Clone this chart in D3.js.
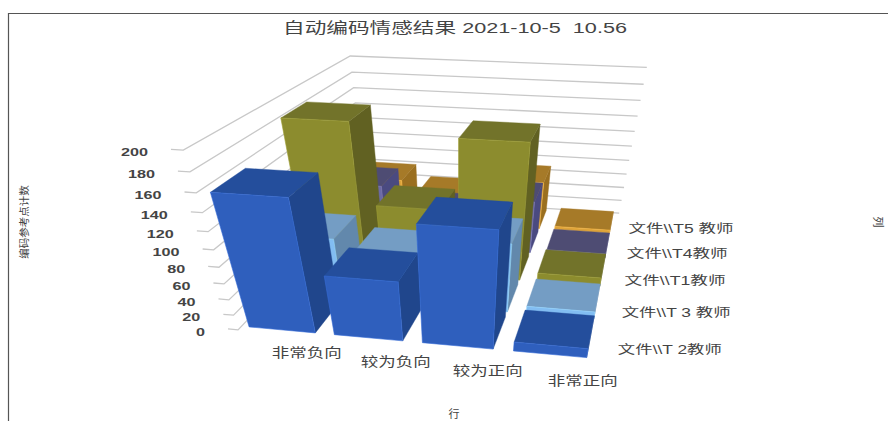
<!DOCTYPE html>
<html>
<head>
<meta charset="utf-8">
<script src="https://cdn.jsdelivr.net/npm/d3@7/dist/d3.min.js"></script>
<style>
  html, body { margin: 0; padding: 0; background: #fff; }
  svg { display: block; }
  text { font-family: "Liberation Sans", "Noto Sans CJK SC", sans-serif; fill: #444; }
</style>
</head>
<body>
<svg id="chart" width="888" height="421"></svg>
<script>
// Row and column names
const categories = ["非常负向", "较为负向", "较为正向", "非常正向"];
const seriesNames = ["文件\\\\T 2教师", "文件\\\\T 3 教师", "文件\\\\T1教师", "文件\\\\T4教师", "文件\\\\T5 教师"];
const seriesWidths = [104, 109, 101, 101, 105];
const tickValues = [0, 20, 40, 60, 80, 100, 120, 140, 160, 180, 200];

// Reference counts per teacher file, one entry per row
const t2Values = [158, 75, 140, 12];
const t3Values = [78, 64, 88, 10];
const t1Values = [183, 87, 171, 12];
const t4Values = [80, 50, 72, 6];
const t5Values = [59, 42, 68, 5];
const allValues = [t2Values, t3Values, t1Values, t4Values, t5Values];

// Front, top and side shades of each series
const frontColors = ["#2f5fbd", "#82bdf2", "#8c8c2e", "#6c6aa6", "#dda33a"];
const topColors = ["#244e9c", "#749dc4", "#72732a", "#4e4c73", "#a67a28"];
const sideColors = ["#20468c", "#6288ac", "#616122", "#4a4a80", "#9a6f20"];

const svg = d3.select("#chart");

// Unit-cube scales: x runs along rows, z runs from front to back
const xScale = d3.scaleBand().domain(categories).range([0, 1]).paddingInner(0.22).paddingOuter(0.09);
const zScale = d3.scaleBand().domain(seriesNames).range([0, 1]).paddingInner(0.15).paddingOuter(0.1);
const yScale = d3.scaleLinear().domain([0, 200]).range([0, 1]);

// Camera solved from where the corners of the plot box land on the page
const boxCorners = [
  [0, 0, 0, 239, 329], [0, 1, 0, 182, 147], [0, 1, 1, 352, 56], [1, 1, 1, 647, 67],
  [1, 0, 1, 619, 211], [1, 0, 0, 596, 363], [0, 0, 1, 364, 199], [1, 1, 0, 629, 180]
];

function solveCamera(points) {
  const rows = [];
  points.forEach(([x, y, z, u, v]) => {
    rows.push([x, y, z, 1, 0, 0, 0, 0, -u * x, -u * y, -u * z, u]);
    rows.push([0, 0, 0, 0, x, y, z, 1, -v * x, -v * y, -v * z, v]);
  });
  const n = 11;
  const normal = d3.range(n).map(i => d3.range(n + 1).map(j =>
    d3.sum(rows, r => r[i] * r[j])));
  for (let c = 0; c < n; c++) {
    let pivot = c;
    for (let r = c + 1; r < n; r++) if (Math.abs(normal[r][c]) > Math.abs(normal[pivot][c])) pivot = r;
    [normal[c], normal[pivot]] = [normal[pivot], normal[c]];
    for (let r = 0; r < n; r++) {
      if (r === c) continue;
      const f = normal[r][c] / normal[c][c];
      for (let k = c; k <= n; k++) normal[r][k] -= f * normal[c][k];
    }
  }
  return d3.range(n).map(i => normal[i][n] / normal[i][i]);
}

const m = solveCamera(boxCorners);
function project(x, y, z) {
  const w = m[8] * x + m[9] * y + m[10] * z + 1;
  return [(m[0] * x + m[1] * y + m[2] * z + m[3]) / w, (m[4] * x + m[5] * y + m[6] * z + m[7]) / w];
}
const polyPath = pts => "M" + pts.map(p => project(...p).map(c => c.toFixed(2)).join(",")).join("L") + "Z";

// Page frame
svg.append("path").attr("d", "M8.5,421V13.5H888").attr("fill", "none").attr("stroke", "#555").attr("stroke-width", 1.2);

// Wall gridlines with a short tick toward the value labels
svg.append("g").selectAll("path").data(tickValues).join("path")
  .attr("fill", "none").attr("stroke", "#c8c8c8").attr("stroke-width", 1.3)
  .attr("d", t => {
    const y = yScale(t);
    return d3.line()([project(-0.03, y, 0), project(0, y, 0), project(0, y, 1), project(1, y, 1)]);
  });

// Value labels
svg.append("g").selectAll("text").data(tickValues).join("text")
  .attr("font-size", 11.5).attr("font-weight", 700).attr("text-anchor", "end")
  .attr("lengthAdjust", "spacingAndGlyphs").attr("textLength", t => String(t).length * 9)
  .attr("x", t => project(-0.03, yScale(t), 0)[0] - 23)
  .attr("y", t => project(-0.03, yScale(t), 0)[1] + 7)
  .text(d3.format("d"));

// Bars painted back row first, then left to right in each row
const bars = [];
seriesNames.forEach((s, si) => categories.forEach((c, ci) => bars.push({ si, ci, s, c, value: allValues[si][ci] })));
bars.sort((a, b) => d3.descending(a.si, b.si) || d3.ascending(a.ci, b.ci));

const bar = svg.append("g").selectAll("g").data(bars).join("g");
const corners = d => {
  const x0 = xScale(d.c), x1 = x0 + xScale.bandwidth();
  const z0 = zScale(d.s), z1 = z0 + zScale.bandwidth();
  return { x0, x1, z0, z1, h: yScale(d.value) };
};
const edge = d => d3.color(frontColors[d.si]).brighter(0.35).formatHex();

bar.append("path").attr("fill", d => sideColors[d.si]).attr("stroke", d => sideColors[d.si]).attr("stroke-width", 0.4)
  .attr("d", d => { const b = corners(d); return polyPath([[b.x1, 0, b.z0], [b.x1, 0, b.z1], [b.x1, b.h, b.z1], [b.x1, b.h, b.z0]]); });
bar.append("path").attr("fill", d => topColors[d.si]).attr("stroke", d => topColors[d.si]).attr("stroke-width", 0.4)
  .attr("d", d => { const b = corners(d); return polyPath([[b.x0, b.h, b.z0], [b.x1, b.h, b.z0], [b.x1, b.h, b.z1], [b.x0, b.h, b.z1]]); });
bar.append("path").attr("fill", d => frontColors[d.si]).attr("stroke", d => edge(d)).attr("stroke-width", 0.6)
  .attr("d", d => { const b = corners(d); return polyPath([[b.x0, 0, b.z0], [b.x1, 0, b.z0], [b.x1, b.h, b.z0], [b.x0, b.h, b.z0]]); });

// Row labels under the front edge, drifting outward toward the right
svg.append("g").selectAll("text").data(categories).join("text")
  .attr("font-size", 13).attr("text-anchor", "middle")
  .attr("lengthAdjust", "spacingAndGlyphs").attr("textLength", 70)
  .attr("x", c => { const u = xScale(c) + xScale.bandwidth() / 2; return project(u, 0, 0)[0] + 27 + 8 * u; })
  .attr("y", c => { const u = xScale(c) + xScale.bandwidth() / 2; return project(u, 0, 0)[1] + 22.5 + 4.6 * u; })
  .text(c => c);

// Column labels along the right edge, drawing closer toward the back
svg.append("g").selectAll("text").data(seriesNames).join("text")
  .attr("font-size", 12).attr("lengthAdjust", "spacingAndGlyphs")
  .attr("textLength", (s, i) => seriesWidths[i])
  .attr("x", s => { const w = zScale(s) + zScale.bandwidth() / 2; return project(1, 0, w)[0] + 21 - 11 * w; })
  .attr("y", s => { const w = zScale(s) + zScale.bandwidth() / 2; return project(1, 0, w)[1] + 13 - 4.4 * w; })
  .text(s => s);

// Chart title and axis titles
svg.append("text").attr("x", 455).attr("y", 33).attr("text-anchor", "middle")
  .attr("font-size", 14.5).attr("lengthAdjust", "spacingAndGlyphs").attr("textLength", 344)
  .style("white-space", "pre")
  .text("自动编码情感结果 2021-10-5  10.56");
svg.append("text").attr("transform", "translate(28,222) rotate(-90)").attr("text-anchor", "middle")
  .attr("font-size", 10.5).attr("fill", "#555").text("编码参考点计数");
svg.append("text").attr("x", 454).attr("y", 418).attr("text-anchor", "middle").attr("font-size", 11).text("行");
svg.append("text").attr("transform", "translate(874,222) rotate(90)").attr("text-anchor", "middle").attr("font-size", 11).text("列");
</script>
</body>
</html>
